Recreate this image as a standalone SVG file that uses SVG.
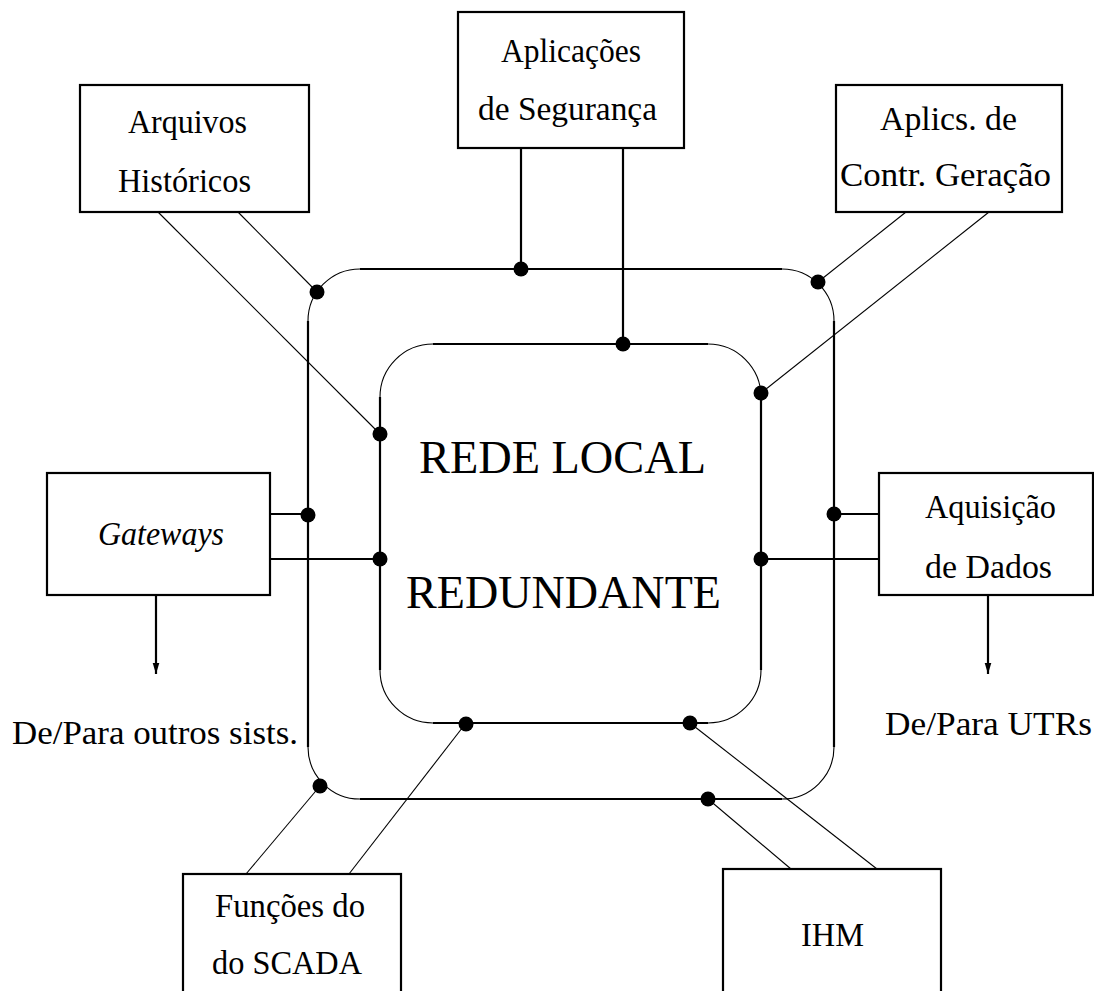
<svg xmlns="http://www.w3.org/2000/svg" width="1094" height="991" viewBox="0 0 1094 991">
  <defs>
    <style>
      .box { fill: #ffffff; stroke: #000000; stroke-width: 2.2; }
      .bus { fill: none; stroke: #000000; stroke-width: 2.2; }
      .arc { fill: none; stroke: #000000; stroke-width: 1.1; }
      .wire { fill: none; stroke: #000000; stroke-width: 2.2; }
      .link { fill: none; stroke: #000000; stroke-width: 1.1; }
      .tap { fill: #000000; }
      text { fill: #000000; }
    </style>
    <marker id="head" viewBox="0 0 10 10" refX="10" refY="5" markerWidth="11" markerHeight="11" markerUnits="userSpaceOnUse" orient="auto">
      <path d="M0,2 L10,5 L0,8 Z" fill="#000000"/>
    </marker>
  </defs>

  <rect width="1094" height="991" fill="#ffffff"/>

  <!-- redundant LAN: outer ring -->
  <g id="ring-outer">
    <line class="bus" x1="360" y1="269" x2="782" y2="269"/>
    <line class="bus" x1="360" y1="799" x2="782" y2="799"/>
    <line class="bus" x1="308" y1="321" x2="308" y2="747"/>
    <line class="bus" x1="834" y1="321" x2="834" y2="747"/>
    <path class="arc" d="M308,321 A52,52 0 0 1 360,269"/>
    <path class="arc" d="M782,269 A52,52 0 0 1 834,321"/>
    <path class="arc" d="M834,747 A52,52 0 0 1 782,799"/>
    <path class="arc" d="M360,799 A52,52 0 0 1 308,747"/>
  </g>

  <!-- redundant LAN: inner ring -->
  <g id="ring-inner">
    <line class="bus" x1="433" y1="344" x2="708" y2="344"/>
    <line class="bus" x1="433" y1="723" x2="708" y2="723"/>
    <line class="bus" x1="380" y1="397" x2="380" y2="670"/>
    <line class="bus" x1="761" y1="397" x2="761" y2="670"/>
    <path class="arc" d="M380,397 A53,53 0 0 1 433,344"/>
    <path class="arc" d="M708,344 A53,53 0 0 1 761,397"/>
    <path class="arc" d="M761,670 A53,53 0 0 1 708,723"/>
    <path class="arc" d="M433,723 A53,53 0 0 1 380,670"/>
  </g>

  <g id="lan-label" font-family="'Liberation Serif', 'Times New Roman', 'DejaVu Serif', serif" font-size="47">
    <text x="419" y="473" textLength="287" lengthAdjust="spacingAndGlyphs">REDE LOCAL</text>
    <text x="406" y="608" textLength="315" lengthAdjust="spacingAndGlyphs">REDUNDANTE</text>
  </g>

  <!-- connectors from each subsystem to both rings -->
  <g id="connectors">
    <line class="link" x1="238" y1="212" x2="317" y2="292"/>
    <line class="link" x1="158" y1="212" x2="380" y2="434"/>
    <line class="wire" x1="521" y1="148" x2="521" y2="269"/>
    <line class="wire" x1="623" y1="148" x2="623" y2="344"/>
    <line class="link" x1="906" y1="212" x2="818" y2="282"/>
    <line class="link" x1="989" y1="212" x2="761" y2="393"/>
    <line class="wire" x1="270" y1="514" x2="308" y2="514"/>
    <line class="wire" x1="270" y1="559" x2="380" y2="559"/>
    <line class="wire" x1="879" y1="514" x2="834" y2="514"/>
    <line class="wire" x1="879" y1="559" x2="761" y2="559"/>
    <line class="link" x1="246" y1="874" x2="320" y2="786"/>
    <line class="link" x1="349" y1="874" x2="466" y2="723"/>
    <line class="link" x1="791" y1="869" x2="708" y2="799"/>
    <line class="link" x1="877" y1="869" x2="690" y2="723"/>
    <line class="wire" x1="156" y1="595" x2="156" y2="674" marker-end="url(#head)"/>
    <line class="wire" x1="988" y1="595" x2="988" y2="674" marker-end="url(#head)"/>
    <circle class="tap" cx="521" cy="269" r="7.5"/>
    <circle class="tap" cx="623" cy="344" r="7.5"/>
    <circle class="tap" cx="317" cy="292" r="7.5"/>
    <circle class="tap" cx="380" cy="434" r="7.5"/>
    <circle class="tap" cx="308" cy="515" r="7.5"/>
    <circle class="tap" cx="380" cy="559" r="7.5"/>
    <circle class="tap" cx="818" cy="282" r="7.5"/>
    <circle class="tap" cx="761" cy="393" r="7.5"/>
    <circle class="tap" cx="834" cy="514" r="7.5"/>
    <circle class="tap" cx="761" cy="559" r="7.5"/>
    <circle class="tap" cx="320" cy="786" r="7.5"/>
    <circle class="tap" cx="466" cy="724" r="7.5"/>
    <circle class="tap" cx="708" cy="799" r="7.5"/>
    <circle class="tap" cx="690" cy="723" r="7.5"/>
  </g>

  <g font-family="'Liberation Serif', 'Times New Roman', 'DejaVu Serif', serif" font-size="33">
    <g id="arquivos">
      <rect class="box" x="80" y="85" width="229" height="127"/>
      <text x="128" y="133" textLength="119" lengthAdjust="spacingAndGlyphs">Arquivos</text>
      <text x="118" y="192" textLength="133" lengthAdjust="spacingAndGlyphs">Históricos</text>
    </g>

    <g id="seguranca">
      <rect class="box" x="458" y="12" width="226" height="136"/>
      <text x="501" y="62" textLength="140" lengthAdjust="spacingAndGlyphs">Aplicações</text>
      <text x="478" y="120" textLength="179" lengthAdjust="spacingAndGlyphs">de Segurança</text>
    </g>

    <g id="geracao">
      <rect class="box" x="836" y="85" width="226" height="127"/>
      <text x="880" y="130" textLength="137" lengthAdjust="spacingAndGlyphs">Aplics. de</text>
      <text x="840" y="186" textLength="211" lengthAdjust="spacingAndGlyphs">Contr. Geração</text>
    </g>

    <g id="gateways">
      <rect class="box" x="47" y="473" width="223" height="122"/>
      <text x="98" y="545" font-style="italic" textLength="126" lengthAdjust="spacingAndGlyphs">Gateways</text>
      <text x="12" y="744" textLength="286" lengthAdjust="spacingAndGlyphs">De/Para outros sists.</text>
    </g>

    <g id="aquisicao">
      <rect class="box" x="879" y="473" width="214" height="122"/>
      <text x="925" y="518" textLength="131" lengthAdjust="spacingAndGlyphs">Aquisição</text>
      <text x="925" y="578" textLength="127" lengthAdjust="spacingAndGlyphs">de Dados</text>
      <text x="885" y="735" textLength="207" lengthAdjust="spacingAndGlyphs">De/Para UTRs</text>
    </g>

    <g id="scada">
      <rect class="box" x="183" y="874" width="218" height="130"/>
      <text x="215" y="917" textLength="150" lengthAdjust="spacingAndGlyphs">Funções do</text>
      <text x="212" y="974" textLength="150" lengthAdjust="spacingAndGlyphs">do SCADA</text>
    </g>

    <g id="ihm">
      <rect class="box" x="723" y="869" width="218" height="135"/>
      <text x="801" y="946" textLength="63" lengthAdjust="spacingAndGlyphs">IHM</text>
    </g>
  </g>
</svg>
